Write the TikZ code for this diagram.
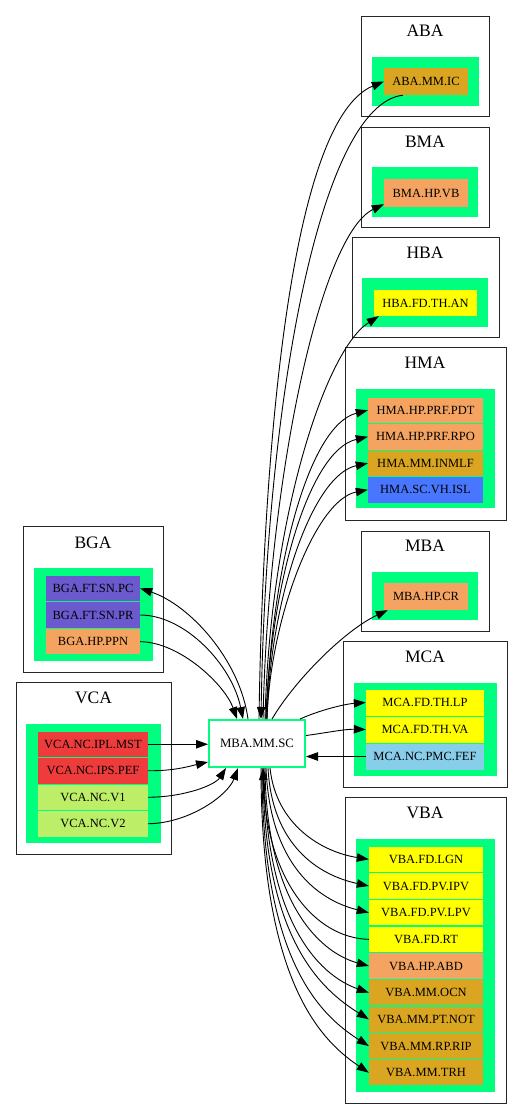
\documentclass[tikz,border=0pt]{standalone}
\usepackage{fontspec}
\setmainfont{Liberation Serif}
\usetikzlibrary{arrows.meta,calc}
\definecolor{sg}{HTML}{00FF7F}
\definecolor{cgold}{HTML}{DAA520}
\definecolor{csand}{HTML}{F4A460}
\definecolor{cyel}{HTML}{FFFF00}
\definecolor{cblue}{HTML}{4876FF}
\definecolor{csky}{HTML}{87CEEB}
\definecolor{cslate}{HTML}{6A5ACD}
\definecolor{cred}{HTML}{EE3B3B}
\definecolor{colive}{HTML}{BCEE68}
\begin{document}
\begin{tikzpicture}[x=1pt,y=-1pt,
  edge/.style={line width=0.9pt, -{Triangle[length=12pt,width=8.5pt]}},
  clbox/.style={draw=black!85, line width=1pt},
  grn/.style={fill=sg},
  ttl/.style={font=\fontsize{17.5}{20}\selectfont, inner sep=0},
  row/.style={inner sep=0, minimum height=25.5pt, font=\fontsize{12.5}{14}\selectfont},
]
\useasboundingbox[fill=white] (0,0) rectangle (523,1119);

% ---------- ABA
\draw[clbox] (361,16) rectangle (489,116);
\node[ttl] (tABA) at (425,31) {ABA};
\fill[grn] (372,57) rectangle (479,106);
\node[row, fill=cgold, minimum width=84pt, minimum height=27pt] (aba1) at (426,81.5) {ABA.MM.IC};

% ---------- BMA
\draw[clbox] (361,127) rectangle (489,227);
\node[ttl] (tBMA) at (425,142) {BMA};
\fill[grn] (372,167) rectangle (478,217);
\node[row, fill=csand, minimum width=84pt, minimum height=28pt] (bma1) at (426,193) {BMA.HP.VB};

% ---------- HBA
\draw[clbox] (352,237) rectangle (499,337);
\node[ttl] (tHBA) at (425,253) {HBA};
\fill[grn] (362,278) rectangle (488,327);
\node[row, fill=cyel, minimum width=103pt, minimum height=26pt] (hba1) at (425.5,303) {HBA.FD.TH.AN};

% ---------- HMA
\draw[clbox] (345,347) rectangle (506,520);
\node[ttl] (tHMA) at (425,363) {HMA};
\fill[grn] (356,389) rectangle (495,508);
\node[row, fill=csand, minimum width=115pt] (hma1) at (425.5,410.25) {HMA.HP.PRF.PDT};
\node[row, fill=csand, minimum width=115pt] (hma2) at (425.5,436.75) {HMA.HP.PRF.RPO};
\node[row, fill=cgold, minimum width=115pt] (hma3) at (425.5,463.25) {HMA.MM.INMLF};
\node[row, fill=cblue, minimum width=115pt] (hma4) at (425.5,489.75) {HMA.SC.VH.ISL};

% ---------- MBA
\draw[clbox] (361,531) rectangle (489,631);
\node[ttl] (tMBA) at (425,546) {MBA};
\fill[grn] (372,572) rectangle (478,620);
\node[row, fill=csand, minimum width=84pt, minimum height=27pt] (mba1) at (426,596.5) {MBA.HP.CR};

% ---------- MCA
\draw[clbox] (343,641) rectangle (507,787);
\node[ttl] (tMCA) at (425,657) {MCA};
\fill[grn] (354,683) rectangle (497,776);
\node[row, fill=cyel, minimum width=118pt, minimum height=26pt] (mca1) at (425,702.5) {MCA.FD.TH.LP};
\node[row, fill=cyel, minimum width=118pt, minimum height=26pt] (mca2) at (425,729.5) {MCA.FD.TH.VA};
\node[row, fill=csky, minimum width=118pt, minimum height=26pt] (mca3) at (425,756.5) {MCA.NC.PMC.FEF};

% ---------- VBA
\draw[clbox] (345,797) rectangle (506,1103);
\node[ttl] (tVBA) at (425,813) {VBA};
\fill[grn] (356,839) rectangle (495,1092);
\node[row, fill=cyel, minimum width=114pt] (vba1) at (426,859.33) {VBA.FD.LGN};
\node[row, fill=cyel, minimum width=114pt] (vba2) at (426,886.0) {VBA.FD.PV.IPV};
\node[row, fill=cyel, minimum width=114pt] (vba3) at (426,912.67) {VBA.FD.PV.LPV};
\node[row, fill=cyel, minimum width=114pt] (vba4) at (426,939.33) {VBA.FD.RT};
\node[row, fill=csand, minimum width=114pt] (vba5) at (426,966.0) {VBA.HP.ABD};
\node[row, fill=cgold, minimum width=114pt] (vba6) at (426,992.67) {VBA.MM.OCN};
\node[row, fill=cgold, minimum width=114pt] (vba7) at (426,1019.33) {VBA.MM.PT.NOT};
\node[row, fill=cgold, minimum width=114pt] (vba8) at (426,1046.0) {VBA.MM.RP.RIP};
\node[row, fill=cgold, minimum width=114pt] (vba9) at (426,1072.67) {VBA.MM.TRH};

% ---------- BGA
\draw[clbox] (23,526) rectangle (163,672);
\node[ttl] (tBGA) at (93,543) {BGA};
\fill[grn] (34,568) rectangle (153,661);
\node[row, fill=cslate, minimum width=94pt] (bga1) at (93,588.33) {BGA.FT.SN.PC};
\node[row, fill=cslate, minimum width=94pt] (bga2) at (93,615.0) {BGA.FT.SN.PR};
\node[row, fill=csand, minimum width=94pt] (bga3) at (93,641.67) {BGA.HP.PPN};

% ---------- VCA
\draw[clbox] (16,682) rectangle (171,854);
\node[ttl] (tVCA) at (93.5,698) {VCA};
\fill[grn] (26,724) rectangle (161,843);
\node[row, fill=cred, minimum width=110pt] (vca1) at (93,744.25) {VCA.NC.IPL.MST};
\node[row, fill=cred, minimum width=110pt] (vca2) at (93,770.75) {VCA.NC.IPS.PEF};
\node[row, fill=colive, minimum width=110pt] (vca3) at (93,797.25) {VCA.NC.V1};
\node[row, fill=colive, minimum width=110pt] (vca4) at (93,823.75) {VCA.NC.V2};

% ---------- centre
\node[draw=sg, line width=2pt, fill=white, inner sep=0, minimum width=96pt, minimum height=47pt,
      font=\fontsize{12.8}{14}\selectfont] (c) at (257,743.5) {MBA.MM.SC};

% ---------- edges up
\draw[edge] ($(c.north)+(2,0)$) .. controls (263,450) and (290,120) .. (aba1.west);
\draw[edge] ($(aba1.south west)+(19,0)$) .. controls (320,105) and (266,400) .. ($(c.north)+(4,0)$);
\draw[edge] ($(c.north)+(6,0)$) .. controls (268,480) and (320,235) .. ($(bma1.south west)+(0,-3)$);
\draw[edge] ($(c.north)+(8,0)$) .. controls (270,520) and (325,350) .. ($(hba1.south west)+(5,0)$);
\draw[edge] ($(c.north)+(9,0)$) .. controls (272,560) and (310,425) .. (hma1.west);
\draw[edge] ($(c.north)+(9,0)$) .. controls (271,580) and (310,450) .. (hma2.west);
\draw[edge] ($(c.north)+(10,0)$) .. controls (270,600) and (312,475) .. (hma3.west);
\draw[edge] ($(c.north)+(10,0)$) .. controls (270,620) and (315,500) .. (hma4.west);
\draw[edge] ($(c.north)+(15,0)$) .. controls (295,680) and (345,630) .. ($(mba1.south west)+(4,0)$);

% ---------- MCA
\draw[edge] ($(c.north east)+(-6,0)$) .. controls (320,710) and (345,704) .. (mca1.west);
\draw[edge] ($(c.east)+(0,-8)$) .. controls (325,733) and (345,729) .. (mca2.west);
\draw[edge] (mca3.west) -- (c.east |- mca3.west);

% ---------- VBA
\draw[edge] ($(c.south)+(13,0)$) .. controls (276,825) and (322,852) .. (vba1.west);
\draw[edge] ($(c.south)+(11,0)$) .. controls (272,845) and (318,875) .. (vba2.west);
\draw[edge] ($(c.south)+(9,0)$) .. controls (270,865) and (318,900) .. (vba3.west);
\draw[edge] (vba4.west) .. controls (315,938) and (266,880) .. ($(c.south)+(6,0)$);
\draw[edge] ($(c.south)+(8,0)$) .. controls (266,900) and (318,952) .. (vba5.west);
\draw[edge] ($(c.south)+(7,0)$) .. controls (265,920) and (318,975) .. (vba6.west);
\draw[edge] ($(c.south)+(6,0)$) .. controls (263,940) and (322,990) .. (vba7.west);
\draw[edge] ($(c.south)+(5,0)$) .. controls (262,960) and (320,1015) .. (vba8.west);
\draw[edge] ($(c.south)+(4,0)$) .. controls (261,980) and (320,1040) .. (vba9.west);

% ---------- BGA
\draw[edge] ($(c.north)+(-9,0)$) .. controls (240,660) and (190,605) .. (bga1.east);
\draw[edge] (bga2.east) .. controls (185,615) and (232,665) .. ($(c.north)+(-14,0)$);
\draw[edge] (bga3.east) .. controls (180,642) and (225,685) .. ($(c.north)+(-20,0)$);

% ---------- VCA
\draw[edge] (vca1.east) -- (c.west |- vca1.east);
\draw[edge] (vca2.east) .. controls (175,771) and (190,766) .. ($(c.south west)+(0,-6)$);
\draw[edge] (vca3.east) .. controls (185,797) and (215,785) .. ($(c.south west)+(18,0)$);
\draw[edge] (vca4.east) .. controls (190,823) and (228,795) .. ($(c.south west)+(30,0)$);
\end{tikzpicture}
\end{document}
